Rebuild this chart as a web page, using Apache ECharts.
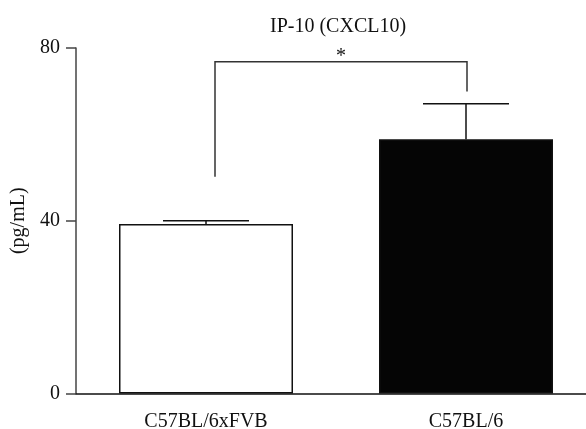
<!DOCTYPE html>
<html>
<head>
<meta charset="utf-8">
<script src="https://cdn.jsdelivr.net/npm/echarts@6/dist/echarts.min.js"></script>
<style>
  html, body { margin: 0; padding: 0; background: #fff; }
  #chart { width: 586px; height: 429px; }
</style>
</head>
<body>
<div id="chart"></div>
<script>
// IP-10 (CXCL10) levels per strain, mean with upper error bar
const titleText = 'IP-10 (CXCL10)';
const yAxisName = '(pg/mL)';
const categories = ['C57BL/6xFVB', 'C57BL/6'];
const means = [39.25, 58.85];
const errorTops = [40.0, 67.1];
const yTicks = [0, 40, 80];

// significance bracket: [left leg bottom, bracket height, right leg bottom]
const bracketLevels = [50.2, 76.8, 69.9];
const bracketMark = '*';

const FONT = "'Liberation Serif', 'DejaVu Serif', serif";
const chart = echarts.init(document.getElementById('chart'), null, { renderer: 'canvas' });

const barFills = ['#ffffff', '#050505'];

chart.setOption({
  animation: false,
  backgroundColor: '#ffffff',
  title: {
    text: titleText,
    left: 265,
    top: 12,
    textStyle: { fontFamily: FONT, fontSize: 20, fontWeight: 'normal', color: '#111' }
  },
  // plot area runs past the right edge so the axis line reaches the border
  grid: { left: 76, right: -10, top: 48, bottom: 35.5, containLabel: false, outerBoundsMode: 'none' },
  xAxis: {
    type: 'category',
    data: categories,
    boundaryGap: true,
    axisLine: { lineStyle: { color: '#111', width: 1.5 } },
    axisTick: { alignWithLabel: true, length: 9, lineStyle: { color: '#222', width: 1.5 } },
    axisLabel: { fontFamily: FONT, fontSize: 20, color: '#111', margin: 18 },
    splitLine: { show: false }
  },
  yAxis: {
    type: 'value',
    min: yTicks[0],
    max: yTicks[yTicks.length - 1],
    interval: yTicks[1] - yTicks[0],
    name: yAxisName,
    nameLocation: 'middle',
    nameGap: 42,
    nameTextStyle: { fontFamily: FONT, fontSize: 20, color: '#111' },
    axisLine: { show: true, lineStyle: { color: '#444', width: 1.5 } },
    axisTick: { show: true, length: 10, lineStyle: { color: '#444', width: 1.5 } },
    axisLabel: { fontFamily: FONT, fontSize: 20, color: '#111', margin: 16 },
    splitLine: { show: false }
  },
  series: [
    {
      type: 'bar',
      data: means.map((v, i) => ({
        value: v,
        itemStyle: { color: barFills[i], borderColor: '#111', borderWidth: 1.5 }
      })),
      barWidth: 174,
      z: 2
    },
    {
      // upper error bars with caps
      type: 'custom',
      z: 3,
      data: means.map((v, i) => [i, v, errorTops[i]]),
      renderItem: function (params, api) {
        const base = api.coord([api.value(0), api.value(1)]);
        const top = api.coord([api.value(0), api.value(2)]);
        const half = 43;
        return {
          type: 'group',
          children: [
            { type: 'line', shape: { x1: base[0], y1: base[1], x2: top[0], y2: top[1] },
              style: { stroke: '#111', lineWidth: 1.5 } },
            { type: 'line', shape: { x1: top[0] - half, y1: top[1], x2: top[0] + half, y2: top[1] },
              style: { stroke: '#111', lineWidth: 1.5 } }
          ]
        };
      }
    },
    {
      // significance bracket between the two groups
      type: 'custom',
      z: 4,
      data: [[0, 1]],
      renderItem: function (params, api) {
        const l0 = api.coord([0, bracketLevels[0]]);
        const lt = api.coord([0, bracketLevels[1]]);
        const rt = api.coord([1, bracketLevels[1]]);
        const r0 = api.coord([1, bracketLevels[2]]);
        const lx = l0[0] + 9;
        const rx = r0[0] + 1;
        return {
          type: 'group',
          children: [
            { type: 'polyline',
              shape: { points: [[lx, l0[1]], [lx, lt[1]], [rx, rt[1]], [rx, r0[1]]] },
              style: { stroke: '#333', lineWidth: 1.5, fill: null } },
            { type: 'text',
              style: { text: bracketMark, x: (lx + rx) / 2, y: lt[1] - 5,
                       align: 'center', verticalAlign: 'middle',
                       font: '20px ' + FONT, fill: '#111' } }
          ]
        };
      }
    }
  ]
});
</script>
</body>
</html>
